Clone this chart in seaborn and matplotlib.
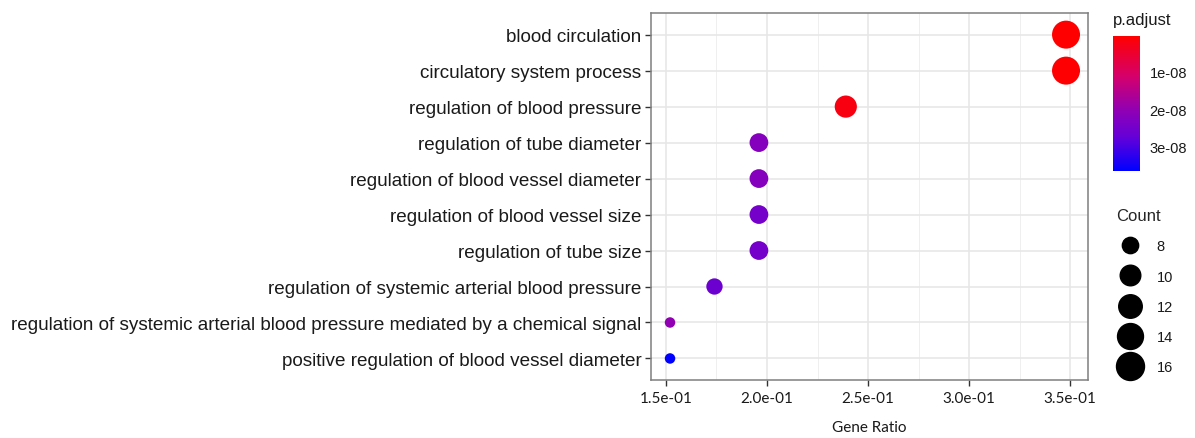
import numpy as np
import pandas as pd
import matplotlib
matplotlib.use('Agg')
import matplotlib.pyplot as plt
from matplotlib.colors import LinearSegmentedColormap, Normalize
from matplotlib.lines import Line2D
from matplotlib.ticker import MultipleLocator, FuncFormatter
import seaborn as sns

# ---- data ----
terms = ['blood circulation',
         'circulatory system process',
         'regulation of blood pressure',
         'regulation of tube diameter',
         'regulation of blood vessel diameter',
         'regulation of blood vessel size',
         'regulation of tube size',
         'regulation of systemic arterial blood pressure',
         'regulation of systemic arterial blood pressure mediated by a chemical signal',
         'positive regulation of blood vessel diameter']
gene_ratio = [0.348, 0.348, 0.239, 0.196, 0.196, 0.196, 0.196, 0.174, 0.152, 0.152]
counts = [16, 16, 11, 9, 9, 9, 9, 8, 7, 7]
p_adjust = [4e-10, 6e-10, 2.0e-09, 2.2e-08, 2.2e-08, 2.45e-08, 2.45e-08, 2.6e-08, 2.0e-08, 3.64e-08]
legend_counts = [8, 10, 12, 14, 16]
cbar_ticks = [1e-08, 2e-08, 3e-08]

df = pd.DataFrame({'Description': terms, 'GeneRatio': gene_ratio,
                   'Count': counts, 'p.adjust': p_adjust})

sns.set_theme(style='white')
plt.rcParams['font.family'] = ['Liberation Sans', 'DejaVu Sans']

# red (small p) -> purple -> blue (large p), like ggplot's gradient
cmap = LinearSegmentedColormap.from_list(
    'rb', [(0.0, '#FF0000'), (0.3, '#D4006C'), (0.55, '#9000B4'),
           (0.75, '#6400D8'), (1.0, '#0000FF')])
pmin, pmax = min(p_adjust), max(p_adjust)

cmin, cmax = min(counts), max(counts)


def dot_area(c):
    # ggplot scale_size(range=c(3, 8)): diameter grows with sqrt of rescaled count
    d_px = (3 + 5 * np.sqrt(max(c - cmin, 0) / (cmax - cmin))) * 3.5
    return (d_px * 0.72) ** 2


size_map = {c: dot_area(c) for c in sorted(set(counts))}

fig = plt.figure(figsize=(11.95, 4.39), dpi=100)
ax = fig.add_axes([0.5448, 0.132, 0.3657, 0.836])

ax.grid(True, which='major', color='#E6E6E6', linewidth=1.1, zorder=0)
ax.set_axisbelow(True)

sns.scatterplot(data=df, x='GeneRatio', y='Description', hue='p.adjust',
                palette=cmap, hue_norm=(pmin, pmax), size='Count',
                sizes=size_map, legend=False, linewidth=0, ax=ax, zorder=3)
ax.set_ylim(9.6, -0.6)
ax.set_xlim(0.1426, 0.3589)
ax.xaxis.set_major_locator(MultipleLocator(0.05))
ax.xaxis.set_minor_locator(MultipleLocator(0.025))
ax.grid(True, which='minor', axis='x', color='#EFEFEF', linewidth=0.7, zorder=0)

ax.xaxis.set_major_formatter(FuncFormatter(lambda v, p: f'{v:.1e}'))
ax.tick_params(axis='both', which='major', length=4, width=1, color='#333333',
               direction='out', bottom=True, left=True)
ax.tick_params(axis='both', which='minor', length=0)
ax.tick_params(axis='y', labelsize=13.6, labelcolor='#1A1A1A', pad=3)
ax.tick_params(axis='x', labelsize=11, labelcolor='#1A1A1A', pad=4)
for lab in ax.get_xticklabels():
    lab.set_family(['Lato', 'DejaVu Sans'])
ax.set_ylabel('')
ax.set_xlabel('Gene Ratio', fontsize=11, family=['Lato', 'DejaVu Sans'],
              color='#1A1A1A', labelpad=11)
for s in ax.spines.values():
    s.set_color('#7F7F7F')
    s.set_linewidth(1.1)

# colour bar for p.adjust (red = small, at top)
cax = fig.add_axes([1113 / 1195, 1 - 172 / 439, 27 / 1195, 135 / 439])
sm = plt.cm.ScalarMappable(norm=Normalize(pmin, pmax), cmap=cmap)
cb = fig.colorbar(sm, cax=cax, ticks=cbar_ticks)
cb.outline.set_visible(False)
cax.invert_yaxis()
cax.yaxis.set_major_formatter(FuncFormatter(lambda v, p: f'{v:.0e}'))
cax.tick_params(axis='y', length=4, width=0.8, color='white', direction='in',
                labelsize=10.5, labelcolor='#1A1A1A', pad=7)
fig.text(1113 / 1195, 1 - 20 / 439, 'p.adjust', fontsize=12, color='#1A1A1A',
         va='center', ha='left')

# size legend for Count
handles = [Line2D([], [], marker='o', linestyle='', color='black',
                  markersize=np.sqrt(dot_area(c)), label=str(c))
           for c in legend_counts]
leg = fig.legend(handles=handles, title='Count', loc='upper left',
                 bbox_to_anchor=(1110 / 1195, 1 - 203 / 439), frameon=False,
                 fontsize=10.5, title_fontsize=12, labelspacing=1.12,
                 handletextpad=0.8, borderaxespad=0)
leg._legend_box.align = 'left'
for t in leg.get_texts():
    t.set_color('#1A1A1A')

fig.savefig('out.png', dpi=100, facecolor='white')
